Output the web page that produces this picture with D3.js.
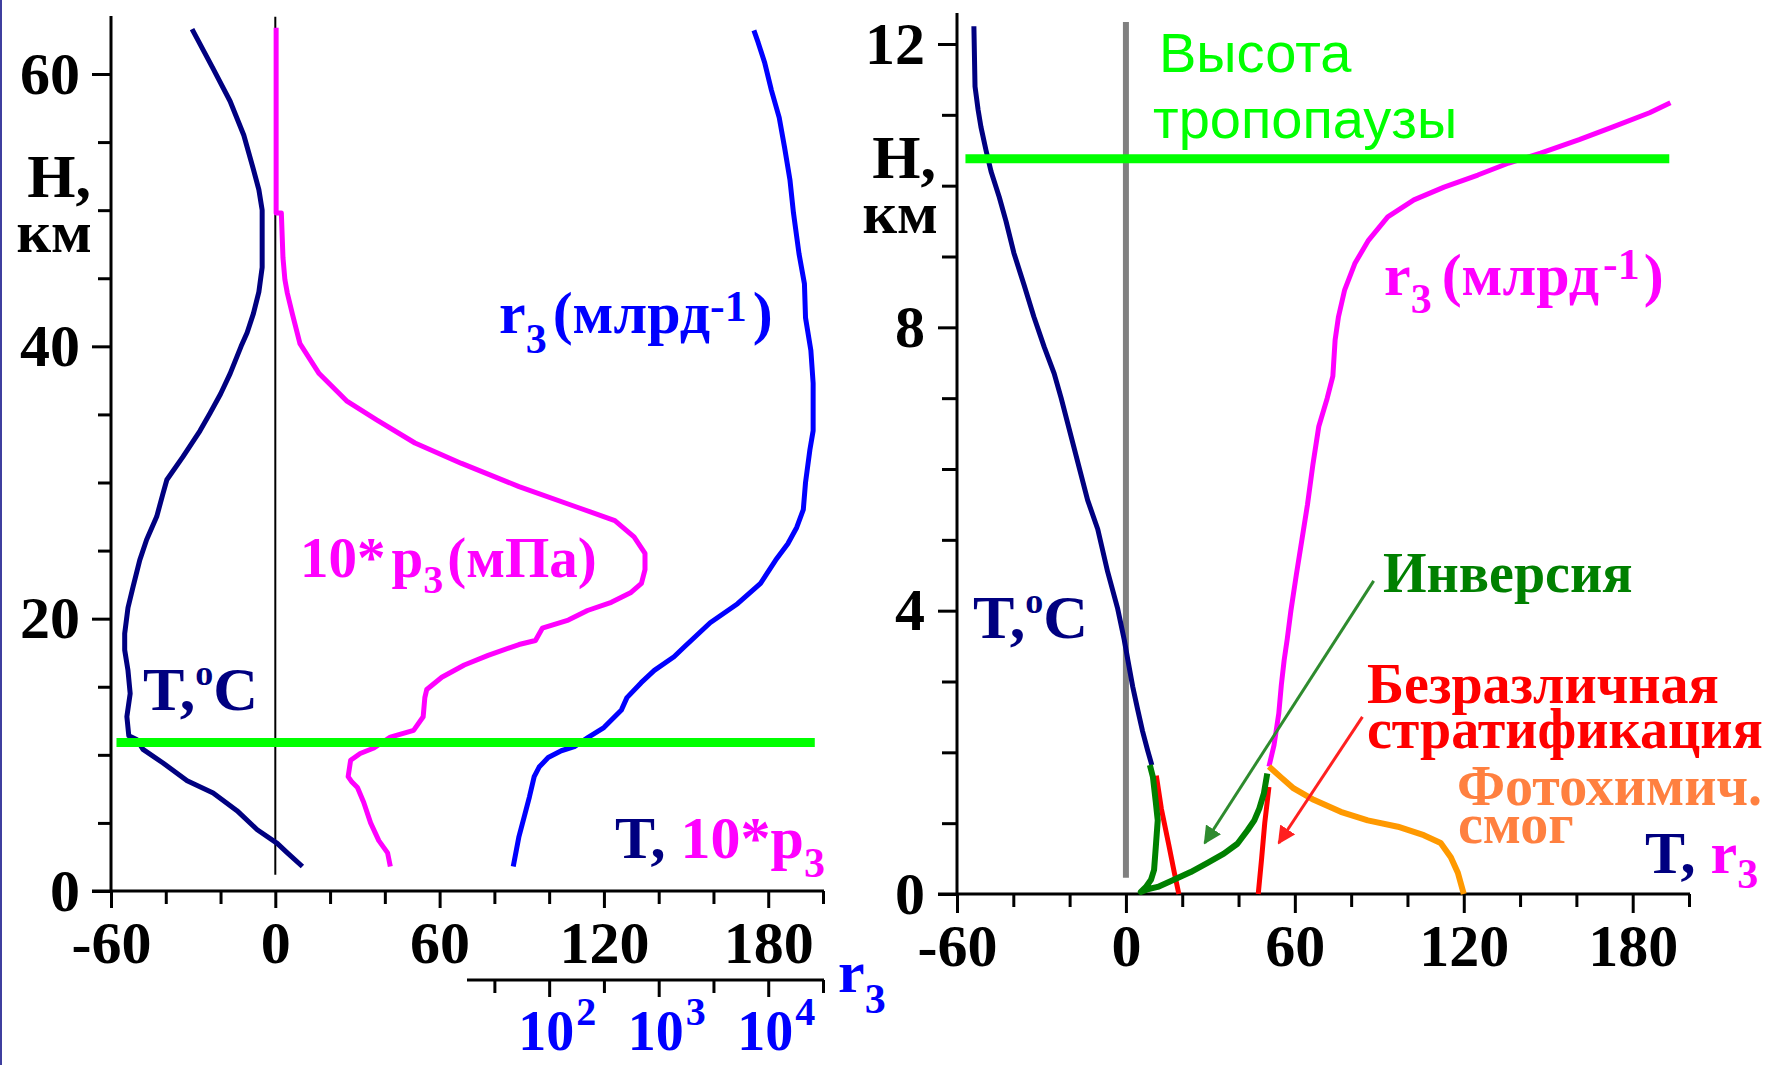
<!DOCTYPE html>
<html><head><meta charset="utf-8">
<script src="https://cdn.jsdelivr.net/npm/d3@7"></script>
<style>html,body{margin:0;padding:0;background:#fff;overflow:hidden}</style>
</head><body><svg id="c" width="1771" height="1065"></svg>
<script>
// ---------------- DATA (H in km, value) ----------------
// Left panel: temperature profile T(°C) vs height
const leftTemp = [[1.8,9.9],[2.8,4.4],[3.5,0.7],[4.5,-6.6],[5.9,-14],[7.2,-22.7],[8.1,-32.2],[9.4,-41],[10.4,-48.3],[11.1,-50.5],[11.4,-53.5],[12.8,-54.2],[14.5,-53],[16.2,-53.8],[17.7,-55],[18.9,-55],[20.8,-53.8],[22.3,-52],[24.3,-49.5],[25.8,-47],[27.5,-43.3],[29.2,-41],[30.2,-39.6],[31.9,-33.7],[33.8,-27.5],[35.1,-23.8],[36.5,-20],[38,-16.5],[40,-12.5],[41,-10.3],[42.4,-8],[44,-6],[45.8,-4.8],[50,-4.8],[51.5,-6],[53,-8],[55.5,-11.5],[58,-16.5],[60.5,-23],[63.3,-30.4]];
// Left panel: 10*p3 (mPa) vs height
const leftP3 = [[1.8,42],[2.8,41],[3.7,37.8],[5.0,34.8],[6.5,32.3],[7.6,30],[8.0,28],[8.4,26.6],[9.6,27.5],[10.1,31],[10.5,36],[11.3,42],[11.8,50.5],[12.8,54],[14.2,54.6],[14.8,55.3],[15.7,60.8],[16.6,69],[17.3,77.7],[18.1,89],[18.4,95],[19.3,97.5],[19.9,107],[20.6,114],[21.2,122.7],[21.9,129.7],[22.6,133.7],[23.6,135],[24.8,135],[26,131],[27.2,124],[28.2,110],[29.7,89],[31.4,68],[32.9,51],[34.6,37],[36,26],[38,16],[40.2,9],[42.4,6.2],[43.9,4.4],[44.9,3.5],[46.5,2.8],[49.8,2.2],[49.8,0.3],[63.4,0.3]];
// Left panel: r3 (ppb, log axis) vs height
const leftR3 = [[1.8,47],[4,53],[5.4,59],[6.9,66],[8.4,73],[9.1,81],[9.8,98],[10.3,129],[10.6,170],[11.3,229],[12,316],[13.3,457],[14.2,513],[15.3,692],[16.2,912],[17.2,1380],[17.9,1700],[19.7,2950],[21.1,5250],[22.6,8510],[24.3,11700],[25.5,15100],[26.7,18200],[28,20900],[30,21900],[32.4,24000],[33.8,25700],[37.3,25700],[39.7,24500],[42.1,21900],[44.6,21400],[46.8,19100],[49.8,17000],[52.2,15800],[54.6,14100],[56.8,12600],[58.8,10700],[60.8,9300],[62.3,8100],[63.2,7400]];
const tropoLeft = [[10.9,-58],[10.9,197]];
const zeroLeft = [[1.2,0],[64.2,0]];

// Right panel
const rightTemp = [[1.82,9.2],[2.03,7.7],[2.3,5.9],[2.6,4.2],[2.93,2.4],[3.3,0.7],[3.59,-0.6],[4.04,-3],[4.55,-6.5],[5.15,-10],[5.56,-13.6],[7.0,-23],[7.35,-25.5],[7.72,-29],[8.15,-32.7],[8.6,-36.2],[9.05,-39.8],[9.5,-42.6],[9.84,-45],[10.2,-47.9],[10.5,-49.7],[10.83,-51.5],[11.07,-52.5],[11.4,-53.6],[12.25,-54]];
const rightR3 = [[1.8,50.8],[2.1,52.6],[2.55,54.3],[2.95,55.2],[3.3,56.2],[3.6,57.3],[4.0,58.6],[4.5,60.5],[5.0,62.5],[5.5,64.5],[6.06,66.4],[6.6,68.5],[7.0,71.5],[7.31,73.5],[7.82,74.3],[8.15,75.5],[8.53,77.7],[8.9,81.3],[9.22,86],[9.56,93],[9.8,102.3],[9.98,113],[10.15,125],[10.32,136],[10.46,147.3],[10.65,161],[10.83,173],[11.03,186],[11.17,193.4]];
const inversion = [[1.82,8.5],[1.65,9.6],[1.3,10.6],[1.04,11.3],[0.66,10.6],[0.34,10],[0.2,8.9],[0.1,7.1],[0.03,5.3],[0.07,8],[0.1,11.3],[0.2,17],[0.31,23],[0.44,29],[0.57,34.8],[0.71,39.6],[0.9,43.2],[1.04,45.6],[1.21,47.4],[1.42,49],[1.7,50.2]];
const neutral1 = [[1.67,10.8],[1.2,12.6],[0.7,15.2],[0.3,17.2],[0,18.8]];
const neutral2 = [[1.51,50.8],[1.0,49.3],[0.5,48.2],[0,47.0]];
const smog = [[1.8,50.8],[1.65,55],[1.49,59.6],[1.33,66.7],[1.16,76.3],[1.04,85.9],[0.95,96.6],[0.83,105.8],[0.72,111.8],[0.52,115.4],[0.3,117.9],[0.0,120]];
const tropoRight = [[10.38,-57],[10.38,193]];
const zeroRight = [[0.23,0],[12.31,0]];
const arrowInv = [[4.42,88],[0.72,28]];
const arrowNeu = [[2.5,84],[0.72,54.3]];

// Ticks
const leftXMajor = [-60,0,60,120,180];
const leftXMinor = [-40,-20,20,40,80,100,140,160,200];
const leftYMajor = [0,20,40,60];
const leftYMinor = d3.range(5,65,5).filter(v=>v%20!==0);
const r3Major = [1e2,1e3,1e4];
const r3Minor = [Math.pow(10,1.5),Math.pow(10,2.5),Math.pow(10,3.5),Math.pow(10,4.5)];
const r3Labels = [["10","2",1e2],["10","3",1e3],["10","4",1e4]];
const rightXMajor = [-60,0,60,120,180];
const rightXMinor = [-40,-20,20,40,80,100,140,160,200];
const rightYMajor = [0,4,8,12];
const rightYMinor = [1,2,3,5,6,7,9,10,11];

// ---------------- SCALES ----------------
const xL = d3.scaleLinear().domain([-60,200]).range([111,823]);
const yL = d3.scaleLinear().domain([0,60]).range([891,74]);
const rL = d3.scaleLog().domain([Math.pow(10,1.25),Math.pow(10,4.5)]).range([xL(70),xL(200)]);
const xR = d3.scaleLinear().domain([-60,200]).range([957,1689]);
const yR = d3.scaleLinear().domain([0,12]).range([894,44]);

const serif = "'Liberation Serif','Times New Roman',serif";
const sans = "'Liberation Sans',Arial,sans-serif";
const NAVY="#000080", MAG="#ff00ff", BLUE="#0000ff", LIME="#00ff00", DGREEN="#008000", RED="#ff0000", ORANGE="#ff9900", CORAL="#ff8040";

const svg = d3.select("#c");
svg.append("rect").attr("width",1771).attr("height",1065).attr("fill","#fff");
svg.append("rect").attr("x",0).attr("y",0).attr("width",2).attr("height",1065).attr("fill","#3f3f9f");

function styleAxis(g, size){
  g.select(".domain").remove();
  g.selectAll("line").attr("stroke","#000").attr("stroke-width",3);
  g.selectAll("text").attr("font-family",serif).attr("font-weight","bold").attr("font-size",size).attr("fill","#000");
}
const fmt = d => d<0 ? "-"+Math.abs(d) : String(d);

function line(x,y){ return d3.line().x(d=>x(d[1])).y(d=>y(d[0])); }
function path(data,x,y,color,w){
  svg.append("path").datum(data).attr("d",line(x,y)).attr("fill","none")
    .attr("stroke",color).attr("stroke-width",w).attr("stroke-linejoin","round");
}
function rich(x,y,parts,anchor){
  const t = svg.append("text").attr("x",x).attr("y",y).attr("font-family",serif).attr("font-weight","bold")
    .attr("text-anchor",anchor||"start");
  parts.forEach(p=>{
    const s=t.append("tspan").text(p.t).attr("font-size",p.s).attr("fill",p.c||"#000");
    if(p.dy) s.attr("dy",p.dy);
    if(p.dx) s.attr("dx",p.dx);
  });
  return t;
}

// ---------------- LEFT PANEL AXES ----------------
svg.append("line").attr("x1",xL(-60)).attr("x2",xL(-60)).attr("y1",yL(0)).attr("y2",16).attr("stroke","#000").attr("stroke-width",3);
svg.append("line").attr("x1",xL(-60)-19).attr("x2",xL(200)+1).attr("y1",yL(0)).attr("y2",yL(0)).attr("stroke","#000").attr("stroke-width",3);
styleAxis(svg.append("g").attr("transform",`translate(${xL(-60)},0)`).call(d3.axisLeft(yL).tickValues(leftYMinor).tickSize(13).tickFormat("")),60);
styleAxis(svg.append("g").attr("transform",`translate(${xL(-60)},0)`).call(d3.axisLeft(yL).tickValues(leftYMajor).tickSize(19).tickPadding(12).tickFormat(fmt)),60);
styleAxis(svg.append("g").attr("transform",`translate(0,${yL(0)})`).call(d3.axisBottom(xL).tickValues(leftXMinor).tickSize(13).tickFormat("")),60);
styleAxis(svg.append("g").attr("transform",`translate(0,${yL(0)})`).call(d3.axisBottom(xL).tickValues(leftXMajor).tickSize(17).tickPadding(12).tickFormat(fmt)),60);
// secondary log axis for r3
svg.append("line").attr("x1",rL.range()[0]).attr("x2",rL.range()[1]+1).attr("y1",980).attr("y2",980).attr("stroke","#000").attr("stroke-width",3);
styleAxis(svg.append("g").attr("transform","translate(0,980)").call(d3.axisBottom(rL).tickValues(r3Minor).tickSize(13).tickFormat("")),60);
styleAxis(svg.append("g").attr("transform","translate(0,980)").call(d3.axisBottom(rL).tickValues(r3Major).tickSize(17).tickFormat("")),60);
r3Labels.forEach(([b,e,v])=>{
  rich(rL(v)-31,1050,[{t:b,s:56,c:BLUE},{t:e,s:40,c:BLUE,dy:-25,dx:2}]);
});

// ---------------- RIGHT PANEL AXES ----------------
svg.append("line").attr("x1",xR(-60)).attr("x2",xR(-60)).attr("y1",yR(0)).attr("y2",13).attr("stroke","#000").attr("stroke-width",3);
svg.append("line").attr("x1",xR(-60)-19).attr("x2",xR(200)+1).attr("y1",yR(0)).attr("y2",yR(0)).attr("stroke","#000").attr("stroke-width",3);
styleAxis(svg.append("g").attr("transform",`translate(${xR(-60)},0)`).call(d3.axisLeft(yR).tickValues(rightYMinor).tickSize(15).tickFormat("")),60);
styleAxis(svg.append("g").attr("transform",`translate(${xR(-60)},0)`).call(d3.axisLeft(yR).tickValues(rightYMajor).tickSize(19).tickPadding(13).tickFormat(fmt)),60);
styleAxis(svg.append("g").attr("transform",`translate(0,${yR(0)})`).call(d3.axisBottom(xR).tickValues(rightXMinor).tickSize(13).tickFormat("")),60);
styleAxis(svg.append("g").attr("transform",`translate(0,${yR(0)})`).call(d3.axisBottom(xR).tickValues(rightXMajor).tickSize(19).tickPadding(10).tickFormat(fmt)),60);

// ---------------- LEFT PANEL CURVES ----------------
path(zeroLeft,xL,yL,"#000",2);
path(leftP3,xL,yL,MAG,5);
path(leftTemp,xL,yL,NAVY,5);
svg.append("path").datum(leftR3).attr("d",d3.line().x(d=>rL(d[1])).y(d=>yL(d[0]))).attr("fill","none").attr("stroke",BLUE).attr("stroke-width",5).attr("stroke-linejoin","round");
path(tropoLeft,xL,yL,LIME,9);

// ---------------- RIGHT PANEL CURVES ----------------
path(zeroRight,xR,yR,"#808080",6);
path(rightTemp,xR,yR,NAVY,5);
path(rightR3,xR,yR,MAG,5);
path(neutral1,xR,yR,RED,5);
path(neutral2,xR,yR,RED,5);
path(inversion,xR,yR,DGREEN,6);
path(smog,xR,yR,ORANGE,6);
path(tropoRight,xR,yR,LIME,9);

// arrows
const defs = svg.append("defs");
[["ag","#2e8b2e"],["ar","#ff2020"]].forEach(([id,c])=>{
  defs.append("marker").attr("id",id).attr("viewBox","0 0 10 10").attr("refX",9).attr("refY",5)
   .attr("markerWidth",6).attr("markerHeight",6).attr("markerUnits","strokeWidth").attr("orient","auto")
   .append("path").attr("d","M0,0 L10,5 L0,10 z").attr("fill",c);
});
svg.append("path").datum(arrowInv).attr("d",line(xR,yR)).attr("stroke","#2e8b2e").attr("stroke-width",3).attr("fill","none").attr("marker-end","url(#ag)");
svg.append("path").datum(arrowNeu).attr("d",line(xR,yR)).attr("stroke","#ff2020").attr("stroke-width",3).attr("fill","none").attr("marker-end","url(#ar)");

// ---------------- LABELS ----------------
// left
rich(91,197,[{t:"H,",s:62}],"end");
rich(92,252,[{t:"км",s:60}],"end");
rich(143,710,[{t:"T,",s:62,c:NAVY},{t:"o",s:36,c:NAVY,dy:-25},{t:"C",s:62,c:NAVY,dy:25}]);
rich(300,577,[{t:"10*",s:57,c:MAG},{t:"p",s:57,c:MAG,dx:6},{t:"3",s:40,c:MAG,dy:16},{t:"(мПа)",s:57,c:MAG,dy:-16,dx:4}]);
rich(499,333,[{t:"r",s:60,c:BLUE},{t:"3",s:42,c:BLUE,dy:20},{t:"(млрд",s:60,c:BLUE,dy:-20,dx:6},{t:"-1",s:44,c:BLUE,dy:-12},{t:")",s:60,c:BLUE,dy:12,dx:6}]);
rich(615,858,[{t:"T, ",s:60,c:NAVY},{t:"10*p",s:60,c:MAG},{t:"3",s:42,c:MAG,dy:19}]);
rich(838,992,[{t:"r",s:60,c:BLUE},{t:"3",s:42,c:BLUE,dy:21}]);
// right
rich(936,178,[{t:"H,",s:62}],"end");
rich(938,233,[{t:"км",s:60}],"end");
svg.append("text").attr("x",1159).attr("y",72).attr("font-family",sans).attr("font-size",56).attr("fill",LIME).text("Высота");
svg.append("text").attr("x",1153).attr("y",138).attr("font-family",sans).attr("font-size",56).attr("fill",LIME).text("тропопаузы");
rich(1384,295,[{t:"r",s:60,c:MAG},{t:"3",s:42,c:MAG,dy:18},{t:"(млрд",s:60,c:MAG,dy:-18,dx:10},{t:"-1",s:44,c:MAG,dy:-16,dx:4},{t:")",s:60,c:MAG,dy:16,dx:4}]);
rich(973,638,[{t:"T,",s:62,c:NAVY},{t:"o",s:36,c:NAVY,dy:-25},{t:"C",s:62,c:NAVY,dy:25}]);
rich(1383,592,[{t:"Инверсия",s:56,c:DGREEN}]);
rich(1367,703,[{t:"Безразличная",s:56,c:RED}]);
rich(1367,748,[{t:"стратификация",s:56,c:RED}]);
rich(1457,805,[{t:"Фотохимич.",s:56,c:CORAL}]);
rich(1458,843,[{t:"смог",s:56,c:CORAL}]);
rich(1645,873,[{t:"T, ",s:60,c:NAVY},{t:"r",s:60,c:MAG},{t:"3",s:42,c:MAG,dy:15}]);
</script></body></html>
